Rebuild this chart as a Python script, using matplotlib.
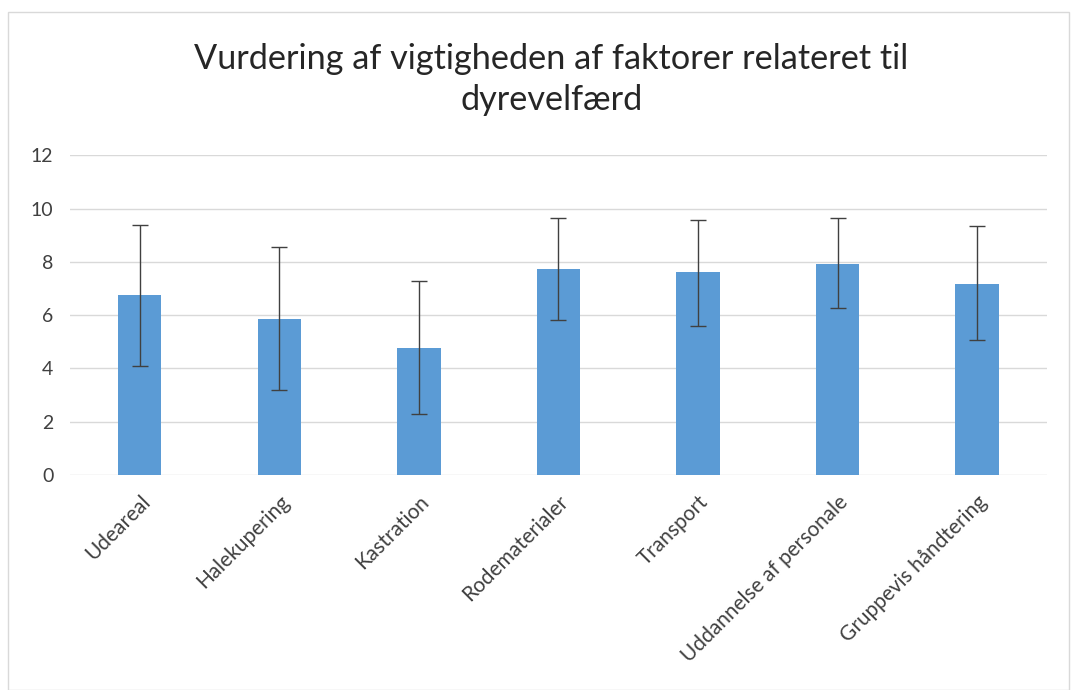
import matplotlib.pyplot as plt
import matplotlib.patches as patches
import numpy as np

categories = ["Udeareal", "Halekupering", "Kastration", "Rodematerialer",
              "Transport", "Uddannelse af personale", "Gruppevis håndtering"]
means = [6.77, 5.86, 4.77, 7.73, 7.61, 7.91, 7.18]
err_low = [4.09, 3.20, 2.28, 5.83, 5.60, 6.27, 5.05]   # lower end of error bar
err_high = [9.39, 8.55, 7.28, 9.64, 9.57, 9.64, 9.33]  # upper end of error bar
yticks = [0, 2, 4, 6, 8, 10, 12]
title = "Vurdering af vigtigheden af faktorer relateret til\ndyrevelfærd"

plt.rcParams['font.family'] = ['Lato', 'DejaVu Sans']

fig = plt.figure(figsize=(10.77, 6.9), dpi=100)
ax = fig.add_axes([0.065, 0.3116, 0.907, 0.4634])

x = np.arange(len(categories))
m = np.array(means)
yerr = np.array([m - np.array(err_low), np.array(err_high) - m])
ax.bar(x, m, width=0.31, color="#5B9BD5", zorder=2)
ax.errorbar(x, m, yerr=yerr, fmt="none", ecolor="#404040", elinewidth=1,
            capsize=6, capthick=1, zorder=3)

ax.set_xlim(-0.5, len(categories) - 0.5)
ax.set_ylim(0, 12)
ax.set_yticks(yticks)
ax.set_yticklabels([str(t) for t in yticks], fontsize=14, color="#404040")
ax.set_xticks(x)
ax.set_xticklabels(categories, rotation=45, ha="right", rotation_mode="anchor",
                   fontsize=15, color="#404040")
ax.tick_params(axis="both", length=0, pad=12)
ax.grid(axis="y", color="#D9D9D9", linewidth=1, zorder=0)
for s in ax.spines.values():
    s.set_visible(False)

fig.text(0.512, 0.885, title, ha="center", va="center", fontsize=24.7,
         color="#262626", linespacing=1.35)

# light border around chart area
fig.patches.append(patches.Rectangle((8 / 1077, 0), 1 - 16 / 1077, 1 - 12 / 690,
                                     transform=fig.transFigure, fill=False,
                                     edgecolor="#D9D9D9", linewidth=1))

fig.savefig("out.png", dpi=100)
